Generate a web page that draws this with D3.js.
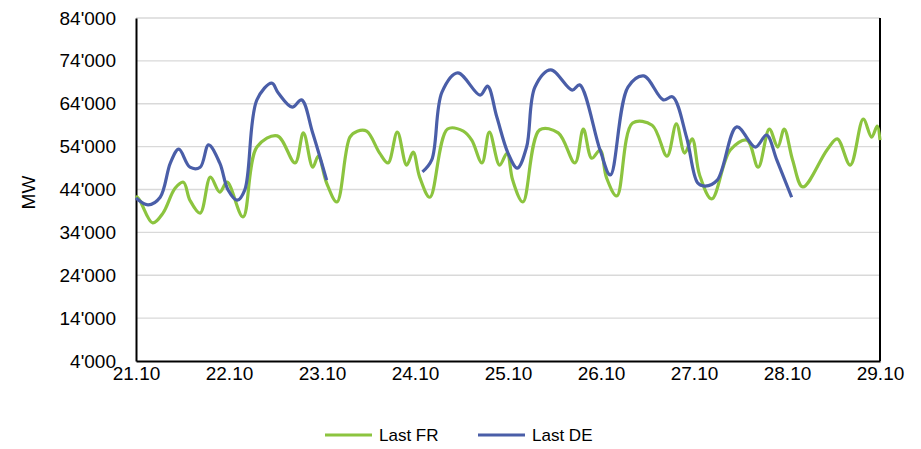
<!DOCTYPE html>
<html><head><meta charset="utf-8">
<script src="https://cdn.jsdelivr.net/npm/d3@7"></script>
<style>body{margin:0;background:#fff}svg text{font-family:"Liberation Sans",Arial,sans-serif !important;font-size:19px !important;fill:#000}svg text.leg{font-size:17px !important}</style>
</head><body><svg id="chart" width="921" height="449"></svg>
<script>
// day of October, MW
var frDays = [21.0,21.04,21.18,21.29,21.42,21.51,21.58,21.69,21.80,21.90,21.98,22.15,22.30,22.52,22.71,22.80,22.90,22.96,23.05,23.16,23.30,23.38,23.48,23.62,23.71,23.81,23.91,23.98,24.05,24.16,24.35,24.52,24.61,24.72,24.80,24.91,24.99,25.05,25.16,25.34,25.54,25.72,25.81,25.90,25.99,26.06,26.17,26.34,26.55,26.71,26.81,26.90,26.98,27.06,27.19,27.39,27.57,27.69,27.81,27.90,27.97,28.06,28.17,28.43,28.54,28.68,28.82,28.91,28.97,29.0];
var frLoad = [42500,41500,36200,38500,44300,45700,41500,38500,46900,43400,45700,37600,53900,56500,50200,57200,49200,51800,45500,41100,56200,57600,57600,52500,50200,57400,49700,52700,46900,42200,58100,57600,55500,50200,57400,49700,52500,46200,41100,57900,57200,50200,58100,51300,53200,46700,42500,59500,59000,51800,59300,52500,55800,47400,41800,53200,55500,49200,58100,53900,58100,50900,44600,53200,55800,49700,60400,56200,58800,55500];
var deDays = [21.0,21.13,21.26,21.37,21.46,21.58,21.69,21.78,21.90,21.99,22.09,22.17,22.30,22.46,22.53,22.68,22.78,22.90,23.05,23.5,24.08,24.18,24.29,24.46,24.70,24.78,24.88,25.00,25.10,25.20,25.29,25.46,25.69,25.77,25.99,26.10,26.29,26.46,26.67,26.77,26.92,27.04,27.12,27.25,27.46,27.66,27.78,27.89,28.05];
var deLoad = [42000,40400,42200,50200,53400,49200,49200,54400,50200,43900,41500,43900,64900,68800,66500,63200,64900,57200,46200,null,48100,50900,66700,71200,66000,68100,60900,52500,49000,53900,67900,71900,67200,68400,53200,47400,67900,70500,64900,65600,56200,45500,44800,46200,58600,53900,56700,50900,42200];
var xTicks = [21,22,23,24,25,26,27,28,29];
var yTicks = [4000,14000,24000,34000,44000,54000,64000,74000,84000];

var svg = d3.select("#chart");
var m = {l:136, r:41, t:18, b:88};
var W = 921 - m.l - m.r, H = 449 - m.t - m.b;
var g = svg.append("g").attr("transform", "translate(" + m.l + "," + m.t + ")");
var x = d3.scaleLinear().domain([21, 29]).range([0, W]);
var y = d3.scaleLinear().domain([4000, 84000]).range([H, 0]);
var fmt = function(v){ return d3.format(",")(v).replace(/,/g, "'"); };

g.selectAll(".grid").data(yTicks.slice(1)).enter().append("line")
  .attr("x1", 0).attr("x2", W).attr("y1", y).attr("y2", y)
  .attr("stroke", "#d9d9d9").attr("stroke-width", 1.3);

var ya = g.append("g").call(d3.axisLeft(y).tickValues(yTicks).tickFormat(fmt).tickSize(0).tickPadding(20));
ya.select(".domain").attr("stroke", "#000").attr("stroke-width", 2);
var xa = g.append("g").attr("transform", "translate(0," + H + ")")
  .call(d3.axisBottom(x).tickValues(xTicks).tickFormat(function(d){ return d + ".10"; }).tickSize(0).tickPadding(6));
xa.select(".domain").attr("stroke", "#000").attr("stroke-width", 2);
g.append("line").attr("x1", W).attr("x2", W).attr("y1", 0).attr("y2", H).attr("stroke", "#000").attr("stroke-width", 2);

svg.append("text").attr("transform", "translate(35," + (m.t + H / 2 + 3) + ") rotate(-90)")
  .attr("text-anchor", "middle").text("MW");

var line = d3.line().defined(function(d){ return d[1] != null; })
  .x(function(d){ return x(d[0]); }).y(function(d){ return y(d[1]); }).curve(d3.curveCatmullRom.alpha(0.5));
g.append("path").datum(d3.zip(frDays, frLoad)).attr("d", line)
  .attr("fill", "none").attr("stroke", "#8cc43f").attr("stroke-width", 3.2);
g.append("path").datum(d3.zip(deDays, deLoad)).attr("d", line)
  .attr("fill", "none").attr("stroke", "#4a5ea8").attr("stroke-width", 3.2);

var legend = [["Last FR", "#8cc43f", 325], ["Last DE", "#4a5ea8", 478]];
legend.forEach(function(l){
  svg.append("line").attr("x1", l[2]).attr("x2", l[2] + 47).attr("y1", 435).attr("y2", 435)
    .attr("stroke", l[1]).attr("stroke-width", 3.2);
  svg.append("text").attr("class", "leg").attr("x", l[2] + 54).attr("y", 441).text(l[0]);
});
</script></body></html>
